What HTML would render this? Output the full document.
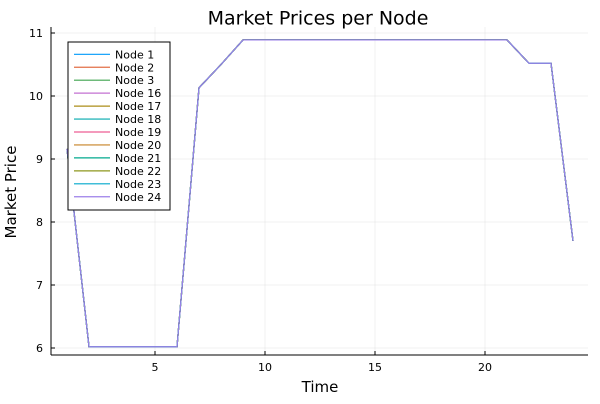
<!DOCTYPE html>
<html><head><meta charset="utf-8"><style>
body{margin:0;background:#fff;font-family:"DejaVu Sans","Liberation Sans",sans-serif}
svg text{font-family:"DejaVu Sans","Liberation Sans",sans-serif}
</style></head><body>
<svg width="600" height="400" viewBox="0 0 600 400" xmlns="http://www.w3.org/2000/svg">
<rect width="600" height="400" fill="#fff"/>
<text x="318" y="18" text-anchor="middle" font-size="19" fill="#000" dy="0.35em">Market Prices per Node</text>
<g id="grid"></g>
<g id="axes"></g>
<g id="series"></g>
<g id="legend"></g>
<text x="320" y="392" text-anchor="middle" font-size="15">Time</text>
<text transform="translate(16,192) rotate(-90)" text-anchor="middle" font-size="15">Market Price</text>
</svg>
<script>
const times = [1,2,3,4,5,6,7,8,9,10,11,12,13,14,15,16,17,18,19,20,21,22,23,24];
const prices = [9.16,6.02,6.02,6.02,6.02,6.02,10.13,10.5,10.89,10.89,10.89,10.89,10.89,10.89,10.89,10.89,10.89,10.89,10.89,10.89,10.89,10.52,10.52,7.7];
const nodes = ["Node 1","Node 2","Node 3","Node 16","Node 17","Node 18","Node 19","Node 20","Node 21","Node 22","Node 23","Node 24"];
const xTicks = [5,10,15,20];
const yTicks = [6,7,8,9,10,11];
const colors = ["#009AFA","#E36F47","#3EA44E","#C371D2","#AC8E18","#00A9AD","#ED5E93","#C68225","#00A98D","#8E971E","#00A8CB","#9B7FE9"];
const NS="http://www.w3.org/2000/svg";
const X0=51,X1=588,Y0=27,Y1=355;
const xs=t=>155+(t-5)*22;
const ys=v=>348-(v-6)*63;
function mk(tag,attrs,parent){const e=document.createElementNS(NS,tag);for(const k in attrs)e.setAttribute(k,attrs[k]);parent.appendChild(e);return e;}
const grid=document.getElementById('grid'),axes=document.getElementById('axes'),series=document.getElementById('series'),legend=document.getElementById('legend');
xTicks.forEach(t=>{
  const g=mk('line',{x1:xs(t),x2:xs(t),y1:Y0,y2:Y1,stroke:'#000','stroke-opacity':0.1,'stroke-width':0.5},grid);
  
  
  mk('line',{x1:xs(t),x2:xs(t),y1:Y1,y2:Y1-4,stroke:'#000','stroke-width':1},axes);
  const l=mk('text',{x:xs(t),y:Y1+16,'text-anchor':'middle','font-size':11},axes);l.textContent=t;
  
  
});
yTicks.forEach(v=>{
  const g=mk('line',{x1:X0,x2:X1,y1:ys(v),y2:ys(v),stroke:'#000','stroke-opacity':0.1,'stroke-width':0.5},grid);
  
  
  mk('line',{x1:X0,x2:X0+4,y1:ys(v),y2:ys(v),stroke:'#000','stroke-width':1},axes);
  const l=mk('text',{x:X0-8,y:ys(v)+4,'text-anchor':'end','font-size':11},axes);l.textContent=v;
  
  
});
const xa=mk('line',{x1:X0,x2:X1,y1:Y1,y2:Y1,stroke:'#000','stroke-width':1},axes);


const ya=mk('line',{x1:X0,x2:X0,y1:Y0,y2:Y1,stroke:'#000','stroke-width':1},axes);


const pts=times.map((t,i)=>xs(t)+','+ys(prices[i])).join(' ');
nodes.forEach((n,i)=>{
  const p=mk('polyline',{points:pts,fill:'none',stroke:colors[i],'stroke-width':1.2},series);
  
  
});
const box=mk('rect',{x:68,y:42,width:102,height:168,fill:'#fff',stroke:'#000','stroke-width':1},legend);


nodes.forEach((n,i)=>{
  const y=54.3+i*12.95;
  const g=mk('g',{},legend);
  
  
  mk('line',{x1:74,x2:110,y1:y,y2:y,stroke:colors[i],'stroke-width':1.2},g);
  const t=mk('text',{x:115,y:y+4,'font-size':11},g);t.textContent=n;
});
</script>
</body></html>
